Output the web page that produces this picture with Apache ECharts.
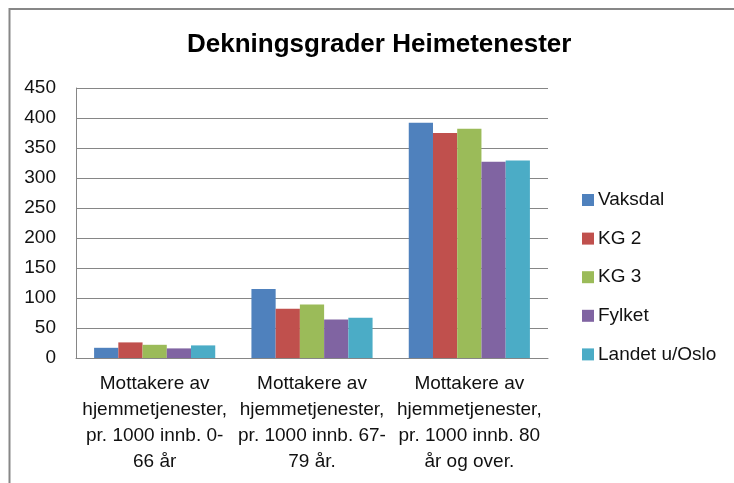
<!DOCTYPE html>
<html>
<head>
<meta charset="utf-8">
<script src="https://cdn.jsdelivr.net/npm/echarts@6/dist/echarts.min.js"></script>
<style>
html,body{margin:0;padding:0;background:#fff;}
#chart{width:734px;height:483px;}
</style>
</head>
<body>
<div id="chart"></div>
<script>
const titleText = 'Dekningsgrader Heimetenester';
const categories = [
  'Mottakere av\nhjemmetjenester,\npr. 1000 innb. 0-\n66 år',
  'Mottakere av\nhjemmetjenester,\npr. 1000 innb. 67-\n79 år.',
  'Mottakere av\nhjemmetjenester,\npr. 1000 innb. 80\når og over.'
];
const seriesNames = ['Vaksdal', 'KG 2', 'KG 3', 'Fylket', 'Landet u/Oslo'];
const vaksdal = [17, 115, 392];
const kg2 = [26, 82, 375];
const kg3 = [22, 89, 382];
const fylket = [16, 64, 327];
const landet = [21, 67, 329];
const yTicks = [0, 50, 100, 150, 200, 250, 300, 350, 400, 450];

const seriesValues = [vaksdal, kg2, kg3, fylket, landet];
const colors = ['#4F81BD', '#C0504D', '#9BBB59', '#8064A2', '#4BACC6'];
const font = 'Liberation Sans, Arial, sans-serif';

const chart = echarts.init(document.getElementById('chart'));
chart.setOption({
  animation: false,
  backgroundColor: '#fff',
  title: {
    text: titleText,
    left: 182,
    top: 27,
    textStyle: { fontFamily: font, fontSize: 26, fontWeight: 'bold', color: '#000' }
  },
  graphic: [{
    type: 'polyline',
    shape: { points: [[9.5, 490], [9.5, 9], [740, 9]] },
    style: { stroke: '#878787', lineWidth: 2, fill: null },
    silent: true
  }],
  legend: {
    orient: 'vertical',
    left: 582,
    top: 190,
    padding: 0,
    itemWidth: 12,
    itemHeight: 12,
    itemGap: 18.6,
    icon: 'rect',
    data: seriesNames,
    textStyle: { fontFamily: font, fontSize: 19, color: '#111', lineHeight: 20, padding: [0, 0, 0, -1] }
  },
  grid: { left: 76, top: 88, right: 186, bottom: 125 },
  xAxis: {
    type: 'category',
    data: categories,
    axisLine: { lineStyle: { color: '#868686', width: 1 } },
    axisTick: { show: false },
    axisLabel: {
      interval: 0,
      margin: 13,
      fontFamily: font,
      fontSize: 19,
      lineHeight: 26,
      color: '#111',
      align: 'center'
    }
  },
  yAxis: {
    type: 'value',
    min: yTicks[0],
    max: yTicks[yTicks.length - 1],
    interval: 50,
    axisLine: { show: true, lineStyle: { color: '#868686', width: 1 } },
    axisTick: { show: false },
    splitLine: { lineStyle: { color: '#868686', width: 1 } },
    axisLabel: { fontFamily: font, fontSize: 19, color: '#111', margin: 20 }
  },
  series: seriesNames.map((name, i) => ({
    name: name,
    type: 'bar',
    data: seriesValues[i],
    barGap: '0%',
    barCategoryGap: '23%',
    itemStyle: { color: colors[i] }
  }))
});
</script>
</body>
</html>
